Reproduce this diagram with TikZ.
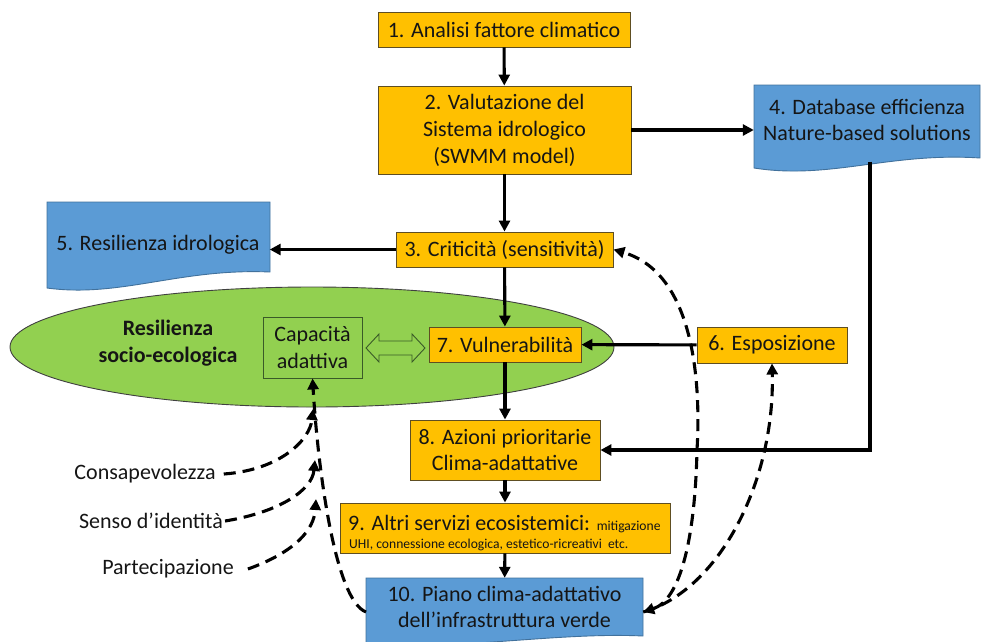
\documentclass[tikz,border=0pt]{standalone}
\usepackage{fontspec}
\setmainfont{Carlito}
\usetikzlibrary{arrows.meta,shapes.geometric}
\definecolor{ofill}{HTML}{FFC000}
\definecolor{oline}{HTML}{5E4E22}
\definecolor{bfill}{HTML}{5B9BD5}
\definecolor{bline}{HTML}{41719C}
\definecolor{gfill}{HTML}{92D050}
\definecolor{gline}{HTML}{3A5A28}
\definecolor{txt}{HTML}{151515}
\tikzset{
  big/.style={font=\fontsize{22}{26}\selectfont, text=txt},
  obox/.style={big, draw=oline, fill=ofill, line width=0.9pt, inner sep=0pt, align=center},
  plain/.style={big, inner sep=0pt, align=center},
  bshape/.style={draw=bline, fill=bfill, line width=0.9pt},
  conn/.style={line width=3.1pt, -{Triangle[length=11pt,width=11pt]}},
  dconn/.style={line width=3.1pt, dash pattern=on 12pt off 7pt, -{Triangle[length=11pt,width=11pt]}},
}
\begin{document}
\begin{tikzpicture}[x=1pt,y=-1pt]
\useasboundingbox (0,0) rectangle (981,641);

% blue document shapes
\path[bshape] (754,85) -- (980,85) -- (980,158) .. controls (890,152) and (830,180) .. (754,168) -- cycle;
\path[bshape] (47,202) -- (270,202) -- (270,272) .. controls (180,268) and (120,298) .. (47,288) -- cycle;
\path[bshape] (366,578) -- (643,578) -- (643,636) .. controls (560,632) and (460,650) .. (366,645) -- cycle;

\node[plain, minimum width=226, minimum height=83] (n4) at (867,120) {4. Database efficienza\\Nature-based solutions};
\node[plain, minimum width=223, minimum height=86] (n5) at (158,245) {\raisebox{4pt}{5. Resilienza idrologica}};
\node[plain, minimum width=277, minimum height=58] (n10) at (504.5,607) {10. Piano clima-adattativo\\dell’infrastruttura verde};

% ellipse
\node[ellipse, draw=black!75, fill=gfill, line width=0.9pt, minimum width=604, minimum height=120, inner sep=0pt] (ell) at (312,347) {};
\node[plain, font=\fontsize{22}{27}\selectfont\bfseries] (res) at (168,343) {Resilienza\\socio-ecologica};
\node[plain, draw=gline, line width=0.9pt, minimum width=99, minimum height=61, font=\fontsize{22}{27}\selectfont] (cap) at (312.5,347.5) {Capacità\\adattiva};

% orange boxes
\node[obox, minimum width=252, minimum height=35] (n1) at (504,29.5) {1. Analisi fattore climatico};
\node[obox, minimum width=253, minimum height=88, font=\fontsize{22}{27}\selectfont] (n2) at (504.5,130) {2. Valutazione del\\Sistema idrologico\\(SWMM model)};
\node[obox, minimum width=217, minimum height=35] (n3) at (504.5,249.5) {3. Criticità (sensitività)};
\node[obox, minimum width=152, minimum height=35] (n7) at (505,344.5) {7. Vulnerabilità};
\node[obox, minimum width=150, minimum height=36] (n6) at (772,345) {6. Esposizione};
\node[obox, minimum width=190, minimum height=60, font=\fontsize{22}{25}\selectfont] (n8) at (505,450) {8. Azioni prioritarie\\Clima-adattative};
\node[obox, minimum width=330, minimum height=50] (n9) at (505,528) {};
\node[plain, anchor=base west] (n9a) at (348,530) {9. Altri servizi ecosistemici: {\fontsize{13.6}{15}\selectfont mitigazione}};
\node[plain, anchor=base west, font=\fontsize{13.6}{15}\selectfont] (n9b) at (349,548) {UHI, connessione ecologica, estetico-ricreativi\ \ etc.};

% left labels
\node[plain] (cons) at (145,474) {Consapevolezza};
\node[plain] (senso) at (151,521) {Senso d’identità};
\node[plain] (part) at (168,569) {Partecipazione};

% double arrow between capacity and vulnerability
\draw[gline, line width=0.9pt] (366,348) -- (379,334) -- (379,341) -- (412,341) -- (412,334) -- (425,348) -- (412,362) -- (412,355) -- (379,355) -- (379,362) -- cycle;

% solid connectors
\draw[conn] (n1) -- (n2);
\draw[conn] (n2) -- (n2 -| n4.west);
\draw[conn] (n2) -- (n3);
\draw[conn] (n3.west) -- (n3.west -| n5.east);
\draw[conn] (n3) -- (n7);
\draw[conn] (n6) -- (n7);
\draw[conn] (n7) -- (n8);
\draw[conn] ([xshift=3pt]n4.south) |- (n8.east);
\draw[conn] (n8) -- (n9);
\draw[conn] (n9) -- (n10);

% dashed connectors
\coordinate (c1) at (313,409);
\coordinate (c2) at (315,460);
\coordinate (c3) at (316,499);
\draw[dconn] (366,612) .. controls (335,600) and (318,470) .. (cap.south);
\draw[dconn] ([xshift=8pt]cons.east) .. controls (280,470) and (310,440) .. (c1);
\draw[dconn] ([xshift=2pt]senso.east) .. controls (280,512) and (312,490) .. (c2);
\draw[dconn] ([xshift=14pt]part.east) .. controls (295,552) and (314,530) .. (c3);
\draw[dconn, {Triangle[length=11pt,width=11pt]}-{Triangle[length=11pt,width=11pt]}] (n10.east |- 0,612) .. controls (680,600) and (695,540) .. (697,450) .. controls (700,400) and (700,275) .. (n3.east);
\draw[dconn] (n10.east |- 0,612) .. controls (720,590) and (775,480) .. (n6.south);
\end{tikzpicture}
\end{document}
